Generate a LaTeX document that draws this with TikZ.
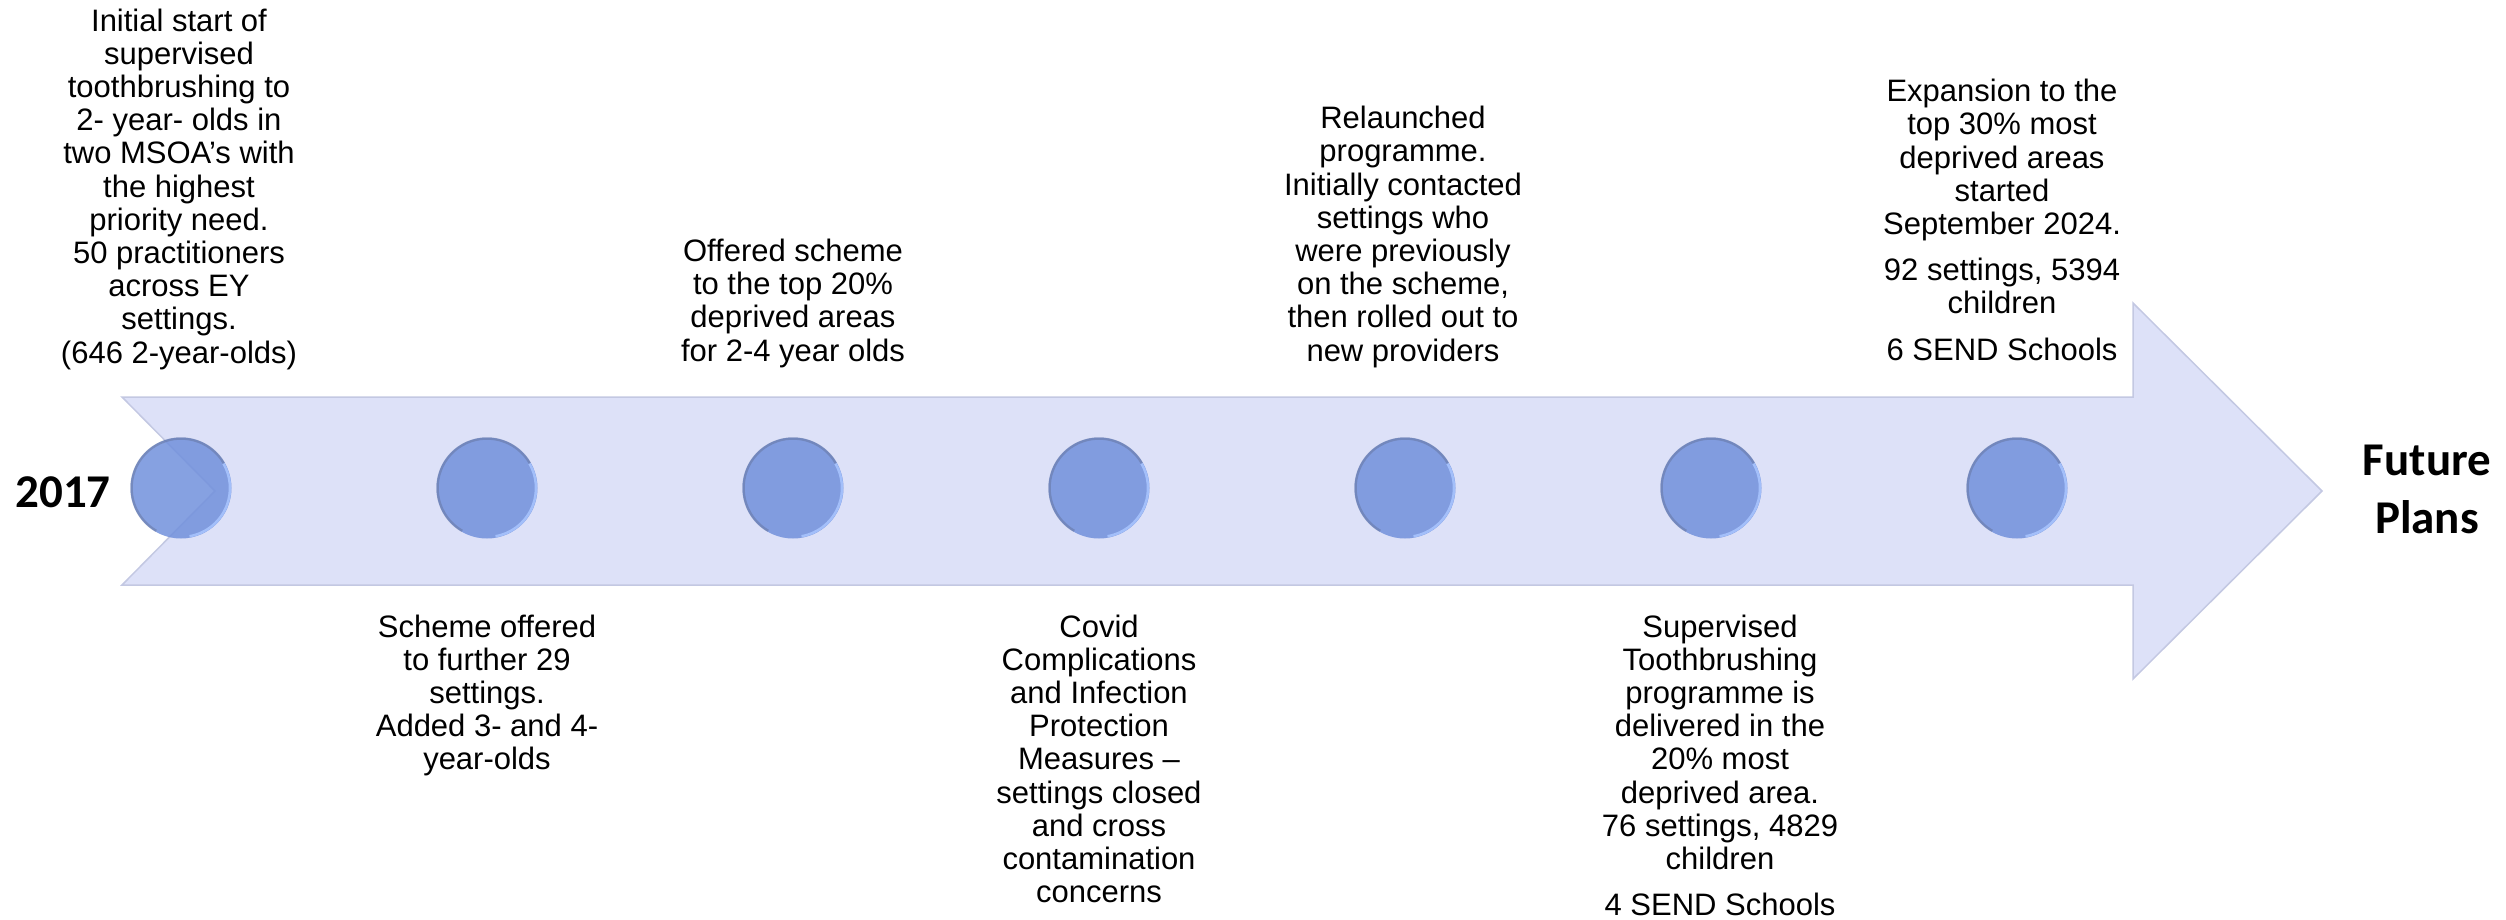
\documentclass[tikz,border=0pt]{standalone}
\usepackage{fontspec}
\setmainfont{Liberation Sans}
\newfontfamily\calib{Carlito}
\definecolor{arrowfill}{RGB}{221,225,248}
\definecolor{arrowline}{RGB}{195,200,226}
\definecolor{dotfill}{RGB}{114,145,220}
\definecolor{dotdark}{RGB}{92,104,140}
\definecolor{dotlight}{RGB}{170,198,255}
\begin{document}
\begin{tikzpicture}[x=1pt,y=-1pt,
  dot/.style={circle, minimum size=101pt, inner sep=0pt, fill=dotfill, fill opacity=0.86},
  rimdark/.style={draw=dotdark, draw opacity=0.4, line width=2.5pt},
  rimlight/.style={draw=dotlight, draw opacity=0.85, line width=2.5pt},
  label/.style={anchor=base, inner sep=0pt, font=\fontsize{31}{33.2}\selectfont},
  big/.style={anchor=base, inner sep=0pt, font=\calib\bfseries\fontsize{47}{58}\selectfont}
]
\useasboundingbox (0,0) rectangle (2506,920);

% timeline arrow
\draw[fill=arrowfill, draw=arrowline, line width=1.5pt, line join=miter]
  (122,397) -- (2133,397) -- (2133,303) -- (2322,491) -- (2133,679) -- (2133,585) -- (122,585) -- (215,491) -- cycle;

% milestones
\foreach \i/\x in {1/181,2/487,3/793,4/1099,5/1405,6/1711,7/2017}{
  \node[dot] (c\i) at (\x,488) {};
  \begin{scope}[shift={(c\i.center)}, yscale=-1]
    \draw[rimlight] (-80:49) arc[start angle=-80, end angle=30, radius=49];
    \draw[rimdark] (30:49.5) arc[start angle=30, end angle=240, radius=49.5];
  \end{scope}
}

% end labels
\node[big] (y2017) at (63,507) {2017};
\node[big] (future) at (2427,475) {\begin{tabular}[t]{@{}c@{}}Future\\ Plans\end{tabular}};

% top texts
\node[label] (t1) at (179,363) {\begin{tabular}[b]{@{}c@{}}Initial start of\\ supervised\\ toothbrushing to\\ 2- year- olds in\\ two MSOA’s with\\ the highest\\ priority need.\\ 50 practitioners\\ across EY\\ settings.\\ (646 2-year-olds)\end{tabular}};
\node[label] (t3) at (793,361) {\begin{tabular}[b]{@{}c@{}}Offered scheme\\ to the top 20\%\\ deprived areas\\ for 2-4 year olds\end{tabular}};
\node[label] (t5) at (1403,361) {\begin{tabular}[b]{@{}c@{}}Relaunched\\ programme.\\ Initially contacted\\ settings who\\ were previously\\ on the scheme,\\ then rolled out to\\ new providers\end{tabular}};
\node[label] (t7) at (2002,360) {\begin{tabular}[b]{@{}c@{}}Expansion to the\\ top 30\% most\\ deprived areas\\ started\\ September 2024.\\[13pt] 92 settings, 5394\\ children\\[13pt] 6 SEND Schools\end{tabular}};

% bottom texts
\node[label] (t2) at (487,637) {\begin{tabular}[t]{@{}c@{}}Scheme offered\\ to further 29\\ settings.\\ Added 3- and 4-\\ year-olds\end{tabular}};
\node[label] (t4) at (1099,637) {\begin{tabular}[t]{@{}c@{}}Covid\\ Complications\\ and Infection\\ Protection\\ Measures –\\ settings closed\\ and cross\\ contamination\\ concerns\end{tabular}};
\node[label] (t6) at (1720,637) {\begin{tabular}[t]{@{}c@{}}Supervised\\ Toothbrushing\\ programme is\\ delivered in the\\ 20\% most\\ deprived area.\\ 76 settings, 4829\\ children\\[13pt] 4 SEND Schools\end{tabular}};
\end{tikzpicture}
\end{document}
